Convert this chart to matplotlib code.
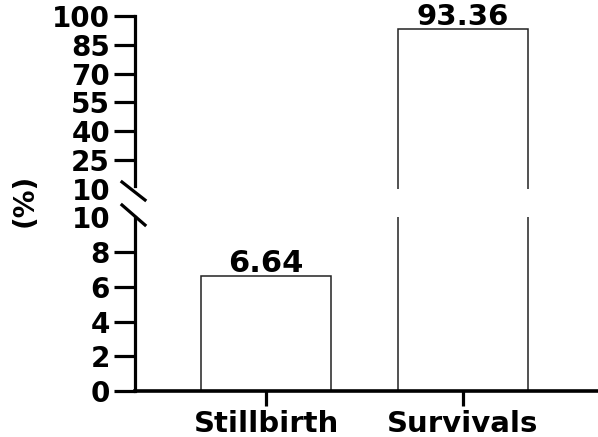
import matplotlib.pyplot as plt

categories = ["Stillbirth", "Survivals"]
values = [6.64, 93.36]
value_labels = ["6.64", "93.36"]
lower_ticks = [0, 2, 4, 6, 8, 10]
upper_ticks = [10, 25, 40, 55, 70, 85, 100]

plt.rcParams["font.family"] = "DejaVu Sans"
plt.rcParams["font.weight"] = "bold"

fig = plt.figure(figsize=(5.98, 4.37), dpi=100)
ax_lo = fig.add_axes([0.2258, 0.1053, 0.78, 0.397])
ax_hi = fig.add_axes([0.2258, 0.5675, 0.78, 0.396])

x = list(range(len(categories)))
for ax in (ax_lo, ax_hi):
    ax.bar(x, values, width=0.66, color="white", edgecolor="#222222", linewidth=1.1)
    ax.set_xlim(-0.665, 1.703)
    for s in ("top", "right"):
        ax.spines[s].set_visible(False)
    ax.spines["left"].set_linewidth(2.3)
    ax.spines["bottom"].set_linewidth(2.6)
    ax.tick_params(axis="y", length=15, width=2.3, labelsize=20, pad=3)

ax_lo.set_ylim(0, 10)
ax_lo.set_yticks(lower_ticks)
ax_lo.set_xticks(x)
ax_lo.set_xticklabels(categories, fontsize=21, fontweight="bold")
ax_lo.tick_params(axis="x", length=11, width=2.3, pad=3)
ax_lo.yaxis.get_major_ticks()[-1].tick1line.set_visible(False)

ax_hi.set_ylim(10, 100)
ax_hi.set_yticks(upper_ticks)
ax_hi.spines["bottom"].set_visible(False)
ax_hi.set_xticks([])
ax_hi.yaxis.get_major_ticks()[0].tick1line.set_visible(False)
ax_hi.spines["left"].set_bounds(11.5, 100)

for ax in (ax_lo, ax_hi):
    for t in ax.get_yticklabels():
        t.set_fontweight("bold")

# value labels
ax_lo.annotate(value_labels[0], (x[0], values[0]), xytext=(0, 2.5), textcoords="offset points",
               ha="center", va="baseline", fontsize=22, fontweight="bold")
ax_hi.annotate(value_labels[1], (x[1], values[1]), xytext=(0, 3), textcoords="offset points",
               ha="center", va="baseline", fontsize=21, fontweight="bold", annotation_clip=False)

# break marks
kw = dict(color="black", linewidth=2.3, clip_on=False)
fig.add_artist(plt.Line2D([122 / 598, 145 / 598], [1 - 182 / 437, 1 - 200 / 437], **kw))
fig.add_artist(plt.Line2D([122 / 598, 145 / 598], [1 - 205 / 437, 1 - 225 / 437], **kw))

fig.text(25 / 598, 1 - 200 / 437, "(%)", rotation=90, ha="center", va="center",
         fontsize=20, fontweight="bold")

fig.savefig("out.png", dpi=100)
